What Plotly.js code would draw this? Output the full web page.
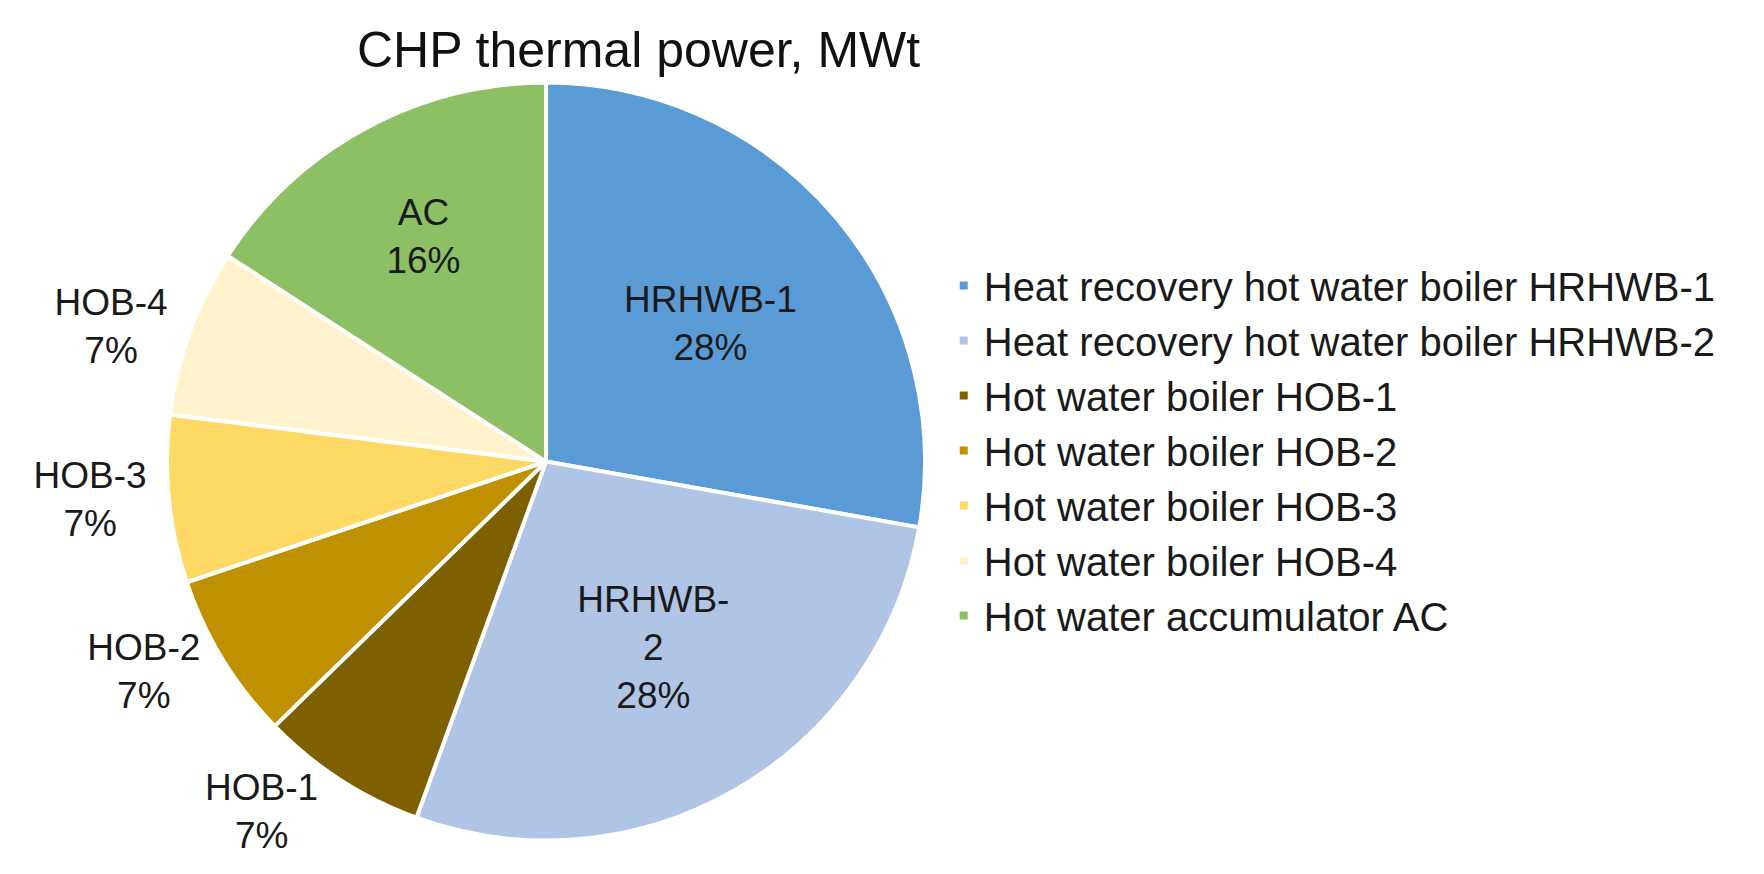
<!DOCTYPE html>
<html>
<head>
<meta charset="utf-8">
<script src="https://cdn.plot.ly/plotly-3.0.1.min.js"></script>
<style>
  html, body { margin: 0; padding: 0; background: #ffffff; }
  #chart { width: 1764px; height: 874px; }
</style>
</head>
<body>
<div id="chart"></div>
<script>
// Data (MWt; shares give 28/28/7/7/7/7/16 %)
const legendLabels = [
  "Heat recovery hot water boiler HRHWB-1",
  "Heat recovery hot water boiler HRHWB-2",
  "Hot water boiler HOB-1",
  "Hot water boiler HOB-2",
  "Hot water boiler HOB-3",
  "Hot water boiler HOB-4",
  "Hot water accumulator AC"
];
const shortLabels = ["HRHWB-1", "HRHWB-<br>2", "HOB-1", "HOB-2", "HOB-3", "HOB-4", "AC"];
const powerMWt = [35, 35, 9, 9, 9, 9, 20];
const sliceColors = ["#5B9BD5", "#B0C4E6", "#7F6000", "#BF9000", "#FFD966", "#FFF2CC", "#8DC065"];
const labelPositions = ["inside", "inside", "outside", "outside", "outside", "outside", "inside"];

const FONT = '"Liberation Sans", Arial, "DejaVu Sans", sans-serif';

const trace = {
  type: "pie",
  labels: legendLabels,
  values: powerMWt,
  text: shortLabels,
  texttemplate: "%{text}<br>%{percent:.0%}",
  textposition: labelPositions,
  insidetextorientation: "horizontal",
  sort: false,
  direction: "clockwise",
  rotation: 0,
  automargin: false,
  marker: { colors: sliceColors, line: { color: "#ffffff", width: 4 } },
  textfont: { family: FONT, size: 37, color: "#1a1a1a" },
  insidetextfont: { family: FONT, size: 37, color: "#1a1a1a" },
  outsidetextfont: { family: FONT, size: 37, color: "#1a1a1a" },
  domain: { x: [0.0947, 0.5244], y: [0.0378, 0.906] },
  hoverinfo: "none"
};

const layout = {
  width: 1764,
  height: 874,
  margin: { l: 0, r: 0, t: 0, b: 0 },
  paper_bgcolor: "#ffffff",
  plot_bgcolor: "#ffffff",
  font: { family: FONT, color: "#1a1a1a" },
  title: {
    text: "CHP thermal power, MWt",
    font: { family: FONT, size: 50, color: "#111111" },
    x: 0.362, xanchor: "center", xref: "container",
    y: 0.943, yanchor: "middle", yref: "container"
  },
  showlegend: true,
  legend: {
    x: 0.535, xanchor: "left",
    y: 0.7105, yanchor: "top",
    font: { family: FONT, size: 40, color: "#1a1a1a" },
    bgcolor: "rgba(0,0,0,0)",
    traceorder: "normal"
  }
};

Plotly.newPlot("chart", [trace], layout, { displayModeBar: false, staticPlot: true });
</script>
</body>
</html>
